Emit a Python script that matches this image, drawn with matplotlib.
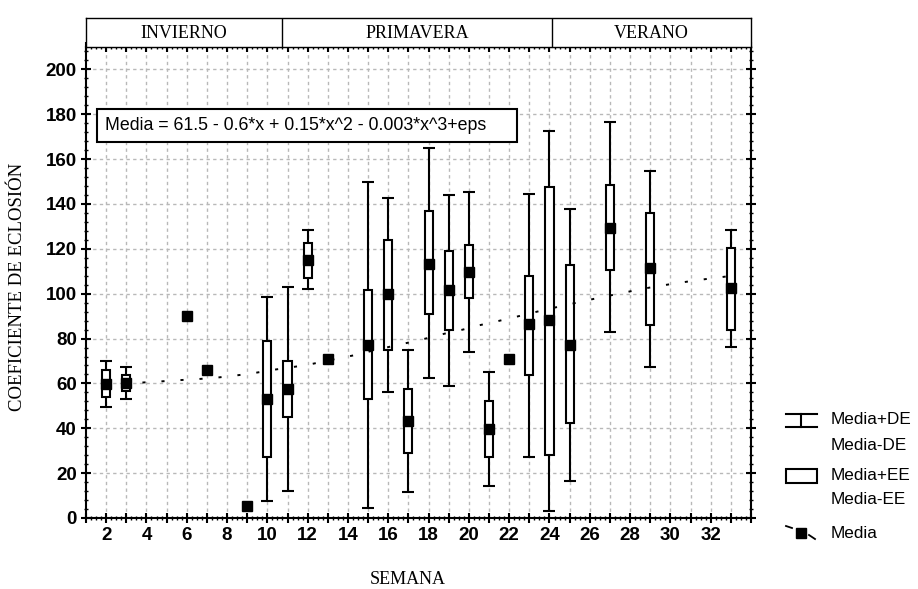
import numpy as np
import matplotlib
matplotlib.use("Agg")
import matplotlib.pyplot as plt
from matplotlib.patches import Rectangle
from matplotlib.ticker import MultipleLocator

nan = np.nan

# Data
weeks = [2, 3, 6, 7, 9, 10, 11, 12, 13, 15, 16, 17, 18, 19, 20, 21, 22, 23, 24, 25, 27, 29, 33]
media = [59.6, 60.1, 89.9, 65.8, 5.5, 52.9, 57.3, 115.1, 71.1, 77.3, 99.9, 43.1, 113.3,
         101.7, 109.6, 39.6, 71.1, 86.4, 88.1, 77.3, 129.5, 111.4, 102.5]
ee_hi = [65.9, 63.7, nan, nan, nan, 79.1, 70.2, 122.5, nan, 101.8, 124.0, 57.6, 136.9,
         119.0, 121.5, 52.0, nan, 108.0, 147.6, 112.6, 148.4, 135.9, 120.6]
ee_lo = [53.9, 56.7, nan, nan, nan, 27.0, 45.0, 107.0, nan, 52.9, 74.7, 28.9, 91.0,
         83.6, 98.1, 27.0, nan, 63.7, 28.0, 42.2, 110.7, 86.2, 83.7]
de_hi = [69.9, 67.3, nan, nan, nan, 98.4, 102.8, 128.4, nan, 149.9, 142.5, 74.7, 165.0,
         144.1, 145.5, 65.3, nan, 144.4, 172.7, 137.8, 176.6, 154.7, 128.4]
de_lo = [49.3, 53.0, nan, nan, nan, 7.4, 12.1, 102.0, nan, 4.3, 56.3, 11.7, 62.4,
         58.8, 73.9, 14.4, nan, 27.3, 3.1, 16.3, 82.8, 67.4, 76.1]

# fitted curve
reg_x = [3.8, 4.7, 5.7, 6.5, 7.4, 8.3, 9.2, 10.1, 11.0, 11.9, 12.7, 13.6, 14.5, 15.3, 16.2,
         17.1, 17.9, 18.8, 19.7, 20.5, 21.4, 22.3, 23.1, 24.0, 24.9, 25.8, 26.6, 27.5,
         28.4, 29.2, 30.1, 31.0, 31.9, 32.8]
reg_y = [60.4, 60.9, 61.5, 61.9, 62.5, 63.4, 64.4, 65.8, 67.0, 68.1, 69.6, 71.3, 72.9,
         74.8, 76.6, 78.4, 80.1, 82.2, 84.0, 85.9, 87.7, 89.6, 91.4, 93.3, 95.1, 96.9,
         98.5, 100.1, 101.8, 103.1, 104.4, 105.6, 106.7, 107.7]

seasons = ["INVIERNO", "PRIMAVERA", "VERANO"]
season_edges = [1, 10.75, 24.1, 34]

xtick_vals = list(range(2, 33, 2))
ytick_vals = list(range(0, 201, 20))
equation = "Media = 61.5 - 0.6*x + 0.15*x^2 - 0.003*x^3+eps"

serif = ["Liberation Serif", "DejaVu Serif"]
sans = ["Liberation Sans", "DejaVu Sans"]
narrow = ["Liberation Sans Narrow", "Liberation Sans", "DejaVu Sans"]

fig = plt.figure(figsize=(9.18, 5.89), dpi=100)
ax = fig.add_axes([86 / 918, 71 / 589, 665 / 918, 471 / 589])
hdr = fig.add_axes([86 / 918, 542 / 589, 665 / 918, 29 / 589])

ax.set_xlim(1, 34)
ax.set_ylim(0, 210)

# grid
for gx in range(2, 34):
    ax.axvline(gx, color="#b8b8b8", lw=1.0, ls=(0, (2.4, 2.4)), zorder=0)
for gy in range(20, 201, 20):
    ax.axhline(gy, color="#b8b8b8", lw=1.0, ls=(0, (2.4, 2.4)), zorder=0)

x = np.array(weeks, dtype=float)
m = np.array(media)
hi = np.array(de_hi)
lo = np.array(de_lo)
ok = ~np.isnan(hi)

# whiskers (mean +/- DE)
ax.errorbar(x[ok], m[ok], yerr=[m[ok] - lo[ok], hi[ok] - m[ok]], fmt="none",
            ecolor="black", elinewidth=1.5, capsize=4.2, capthick=1.5, zorder=2)

# boxes (mean +/- EE)
eh = np.array(ee_hi)
el = np.array(ee_lo)
ax.bar(x[ok], eh[ok] - el[ok], bottom=el[ok], width=0.4, color="white",
       edgecolor="black", linewidth=1.5, zorder=3)

# fitted line
ax.plot(reg_x, reg_y, color="black", lw=1.4, ls=(0, (1.6, 8.2)), zorder=4)

# means
ax.plot(x, m, "s", color="black", markersize=6.8, zorder=5)

# ticks
ax.xaxis.set_major_locator(MultipleLocator(1))
ax.xaxis.set_minor_locator(MultipleLocator(0.25))
ax.yaxis.set_major_locator(MultipleLocator(20))
ax.yaxis.set_minor_locator(MultipleLocator(4))
ax.tick_params(which="major", direction="inout", length=7, width=1.5,
               top=True, right=True, pad=3)
ax.tick_params(which="minor", direction="inout", length=3.5, width=1.0,
               top=True, right=True)
ax.set_xticks(range(1, 35))
ax.set_xticklabels([str(v) if v in xtick_vals else "" for v in range(1, 35)],
                   family=narrow, fontweight="bold", fontsize=13.5)
ax.set_yticks(ytick_vals)
ax.set_yticklabels([str(v) for v in ytick_vals], family=narrow,
                   fontweight="bold", fontsize=13.5)
for s in ax.spines.values():
    s.set_linewidth(1.5)

ax.set_xlabel("SEMANA", family=serif, fontsize=13)
ax.xaxis.set_label_coords(0.484, -0.112)
ax.set_ylabel("COEFICIENTE DE ECLOSIÓN", family=serif, fontsize=13.5)
ax.yaxis.set_label_coords(-0.09, 0.49)

# equation box
ax.add_patch(Rectangle((0.0165, 0.798), 0.6315, 0.07, transform=ax.transAxes,
                       facecolor="white", edgecolor="black", lw=1.5, zorder=6))
ax.text(0.0286, 0.833, equation, transform=ax.transAxes, family=sans,
        fontsize=12.8, va="center", ha="left", zorder=7)

# season header
hdr.set_xlim(1, 34)
hdr.set_ylim(0, 1)
hdr.set_xticks([])
hdr.set_yticks([])
for s in hdr.spines.values():
    s.set_linewidth(1.0)
for i, name in enumerate(seasons):
    if i > 0:
        hdr.axvline(season_edges[i], color="black", lw=1.0)
    hdr.text((season_edges[i] + season_edges[i + 1]) / 2, 0.45, name, family=serif,
             fontsize=13, ha="center", va="center")

# legend
lg = fig.add_axes([0, 0, 1, 1])
lg.set_xlim(0, 918)
lg.set_ylim(589, 0)
lg.axis("off")
lg.patch.set_alpha(0)
lg.plot([786, 817], [414, 414], color="black", lw=1.5)
lg.plot([786, 817], [427, 427], color="black", lw=1.5)
lg.plot([801, 801], [414, 427], color="black", lw=1.5)
lg.add_patch(Rectangle((786, 469), 31, 14, facecolor="white", edgecolor="black", lw=1.5))
lg.plot([786, 792], [526, 528], color="black", lw=1.3)
lg.plot([809, 815], [535, 539], color="black", lw=1.3)
lg.plot([801], [533], "s", color="black", markersize=6.8)
for ty, txt in [(420, "Media+DE"), (445, "Media-DE"), (475, "Media+EE"),
                (500, "Media-EE"), (533, "Media")]:
    lg.text(831, ty, txt, family=sans, fontsize=12.3, va="center", ha="left")

fig.savefig("out.png", dpi=100)
